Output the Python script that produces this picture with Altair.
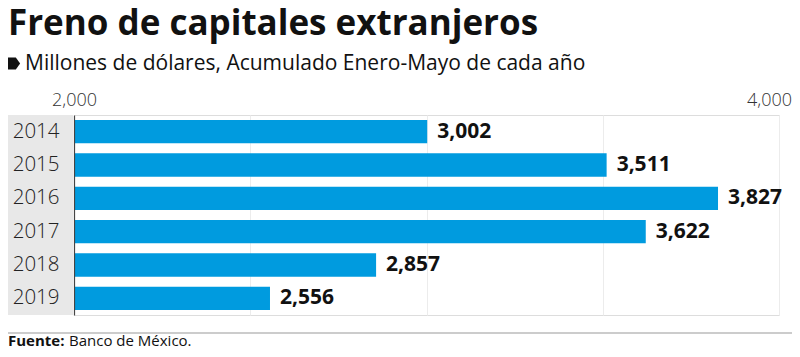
import altair as alt
import pandas as pd

years = ["2014", "2015", "2016", "2017", "2018", "2019"]
values = [3002, 3511, 3827, 3622, 2857, 2556]
x_ticks = [2000, 2500, 3000, 3500, 4000]

title_text = "Freno de capitales extranjeros"
subtitle_text = "Millones de dólares, Acumulado Enero-Mayo de cada año"
source_bold = "Fuente:"
source_text = "Banco de México."

df = pd.DataFrame({"year": years, "value": values})
df["label"] = [f"{v:,}" for v in values]

W, H = 705, 200
FONT = "Open Sans"

x_scale = alt.Scale(domain=[2000, 4000], nice=False, zero=False, clamp=False)
y_enc = alt.Y("year:N", sort=years,
              scale=alt.Scale(paddingInner=0.3, paddingOuter=0.15),
              axis=alt.Axis(title=None, ticks=False, domain=True, domainColor="#444",
                            domainWidth=1.2, labelFont=FONT, labelFontSize=20.5,
                            labelFontWeight=300, labelColor="#222", labelPadding=15,
                            grid=False, zindex=2))

base = alt.Chart(df)

panel = base.mark_rect(color="#e8e8e8").encode(
    x=alt.value(-72), x2=alt.value(-1), y=alt.value(0), y2=alt.value(H)
).transform_filter("datum.year == '2014'")

bars = base.mark_bar(color="#009BDF").encode(
    x=alt.X("value:Q", scale=x_scale,
            axis=alt.Axis(orient="top", values=x_ticks, title=None, ticks=False,
                          domain=False, grid=True, gridColor="#ececec", labelFlush=False,
                          labelExpr="datum.value == 2000 || datum.value == 4000 ? format(datum.value, ',') : ''",
                          labelOffset={"condition": {"test": "datum.value == 4000", "value": -10}, "value": 0},
                          labelFont=FONT, labelFontSize=18, labelFontWeight=300,
                          labelColor="#333", labelPadding=6)),
    x2=alt.datum(2000),
    y=y_enc,
)

labels = base.mark_text(align="left", baseline="middle", dx=10, font=FONT,
                        fontSize=21, fontWeight="bold", color="#111").encode(
    x=alt.X("value:Q", scale=x_scale), y=y_enc, text="label:N"
)

one = base.transform_filter("datum.year == '2014'")

title = one.mark_text(align="left", baseline="alphabetic", font=FONT, fontSize=35,
                      fontWeight="bold", color="#111").encode(
    x=alt.value(-66), y=alt.value(-80), text=alt.value(title_text))

subtitle = one.mark_text(align="left", baseline="alphabetic", font=FONT, fontSize=21,
                         color="#111").encode(
    x=alt.value(-49), y=alt.value(-45), text=alt.value(subtitle_text))

icon = one.mark_point(shape="M-1,-1 L0.3,-1 L1,0 L0.3,1 L-1,1 Z", filled=True,
                      color="#111", opacity=1, size=150).encode(
    x=alt.value(-60), y=alt.value(-51.5))

rule = one.mark_rule(color="#bbb", strokeWidth=1.5).encode(
    x=alt.value(-74), x2=alt.value(W + 30), y=alt.value(218))

src1 = one.mark_text(align="left", baseline="alphabetic", font=FONT, fontSize=15,
                     fontWeight="bold", color="#111").encode(
    x=alt.value(-66), y=alt.value(231), text=alt.value(source_bold))
src2 = one.mark_text(align="left", baseline="alphabetic", font=FONT, fontSize=15,
                     color="#111").encode(
    x=alt.value(-5), y=alt.value(231), text=alt.value(source_text))

chart = alt.layer(panel, bars, labels, title, subtitle, icon, rule, src1, src2).properties(
    width=W, height=H,
    autosize=alt.AutoSizeParams(type="none"),
    padding={"left": 66, "top": 107, "right": 13, "bottom": 34},
).configure_view(stroke=None).configure(background="white")

chart.save("out.html", embed_options={"renderer": "svg", "actions": False})
